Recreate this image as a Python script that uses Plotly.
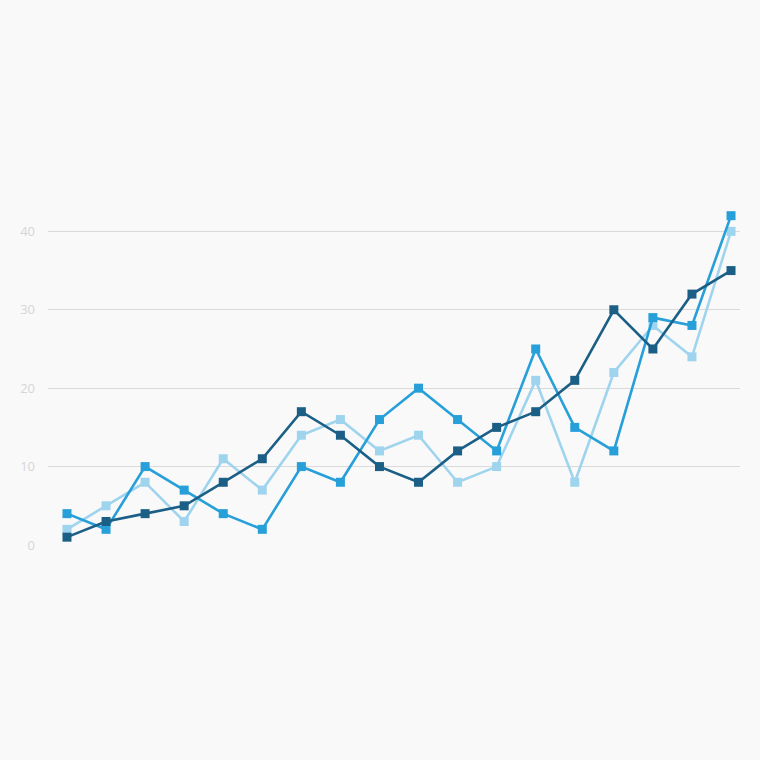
import plotly.graph_objects as go

x_idx = list(range(18))
light = [2, 5, 8, 3, 11, 7, 14, 16, 12, 14, 8, 10, 21, 8, 22, 28, 24, 40]
medium = [4, 2, 10, 7, 4, 2, 10, 8, 16, 20, 16, 12, 25, 15, 12, 29, 28, 42]
dark = [1, 3, 4, 5, 8, 11, 17, 14, 10, 8, 12, 15, 17, 21, 30, 25, 32, 35]
y_ticks = [0, 10, 20, 30, 40]

series = [
    ("light", light, "#9fd4ee"),
    ("medium", medium, "#279fd8"),
    ("dark", dark, "#1b5f86"),
]

fig = go.Figure()
for name, vals, col in series:
    fig.add_trace(go.Scatter(
        x=x_idx, y=vals, mode="lines+markers", name=name,
        line=dict(color=col, width=2.6),
        marker=dict(symbol="square", size=9, color=col),
        cliponaxis=False, showlegend=False,
    ))

fig.update_layout(
    width=760, height=760,
    paper_bgcolor="#f9f9f9", plot_bgcolor="#f9f9f9",
    margin=dict(l=48, r=20, t=200, b=215),
    xaxis=dict(range=[-0.486, 17.23], showgrid=False, zeroline=False,
               showticklabels=False, showline=False),
    yaxis=dict(range=[0, 44], tickvals=y_ticks, showgrid=True,
               gridcolor="#dadada", gridwidth=1.3, zeroline=False,
               showline=False, ticks="",
               tickfont=dict(family="Open Sans", size=13, color="#d6d6d6"),
               ticklabelstandoff=12),
)

fig.write_html("out.html", config={"displayModeBar": False},
               post_script="document.body.style.margin='0';document.body.style.background='#f9f9f9';")
